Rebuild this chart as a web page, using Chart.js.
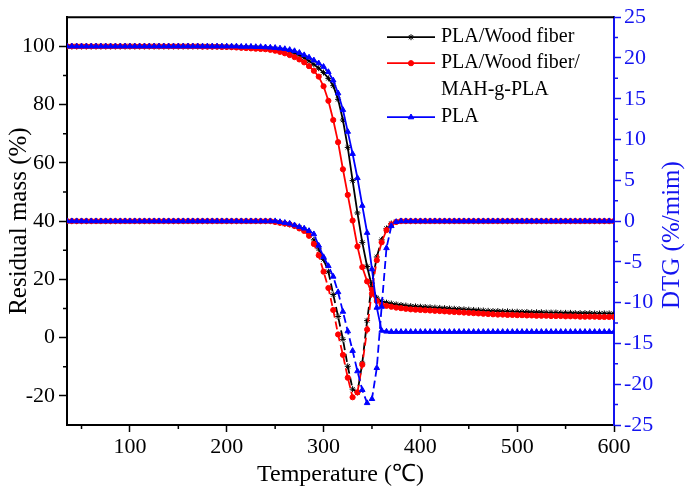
<!DOCTYPE html>
<html>
<head>
<meta charset="utf-8">
<script src="https://cdn.jsdelivr.net/npm/chart.js@4.4.0/dist/chart.umd.min.js"></script>
<style>
html, body { margin: 0; padding: 0; background: #fff; }
</style>
</head>
<body>
<canvas id="myChart" width="696" height="495"></canvas>
<script>
// temperature, 35..600 step 5
const temps = [
  35, 40, 45, 50, 55, 60, 65, 70, 75, 80,
  85, 90, 95, 100, 105, 110, 115, 120, 125, 130,
  135, 140, 145, 150, 155, 160, 165, 170, 175, 180,
  185, 190, 195, 200, 205, 210, 215, 220, 225, 230,
  235, 240, 245, 250, 255, 260, 265, 270, 275, 280,
  285, 290, 295, 300, 305, 310, 315, 320, 325, 330,
  335, 340, 345, 350, 355, 360, 365, 370, 375, 380,
  385, 390, 395, 400, 405, 410, 415, 420, 425, 430,
  435, 440, 445, 450, 455, 460, 465, 470, 475, 480,
  485, 490, 495, 500, 505, 510, 515, 520, 525, 530,
  535, 540, 545, 550, 555, 560, 565, 570, 575, 580,
  585, 590, 595, 600
];

// residual mass (%)
const tgWood = [
  100, 100, 100, 100, 100, 100, 100, 100, 100, 100,
  100, 100, 100, 100, 100, 100, 100, 100, 100, 100,
  100, 100, 100, 100, 100, 100, 100, 100, 100, 100,
  99.9, 99.9, 99.9, 99.8, 99.8, 99.8, 99.7, 99.7, 99.6, 99.6,
  99.5, 99.4, 99.3, 99.1, 98.9, 98.6, 98.2, 97.7, 97.0, 96.1,
  95.0, 93.8, 92.5, 91.0, 89.0, 86.5, 81.8, 74.7, 65.3, 53.9,
  42.8, 32.7, 24.4, 17.5, 13.6, 12.4, 12.0, 11.7, 11.4, 11.2,
  11.0, 10.8, 10.7, 10.6, 10.5, 10.4, 10.3, 10.2, 10.1, 10.0,
  9.9, 9.8, 9.7, 9.6, 9.5, 9.4, 9.3, 9.2, 9.1, 9.1,
  9.0, 9.0, 8.9, 8.9, 8.8, 8.8, 8.7, 8.7, 8.7, 8.6,
  8.6, 8.6, 8.5, 8.5, 8.5, 8.4, 8.4, 8.4, 8.4, 8.3,
  8.3, 8.3, 8.3, 8.2
];
const tgMah = [
  100, 100, 100, 100, 100, 100, 100, 100, 100, 100,
  100, 100, 100, 100, 100, 100, 100, 100, 100, 100,
  100, 100, 100, 100, 100, 100, 100, 100, 99.9, 99.9,
  99.9, 99.9, 99.8, 99.8, 99.7, 99.6, 99.5, 99.4, 99.3, 99.2,
  99.1, 99.0, 98.8, 98.5, 98.1, 97.6, 97.0, 96.3, 95.5, 94.5,
  93.2, 91.6, 89.6, 86.3, 81.3, 74.7, 67.1, 57.8, 49.0, 40.2,
  31.3, 24.2, 19.3, 15.1, 12.6, 11.3, 10.9, 10.6, 10.3, 10.1,
  9.9, 9.7, 9.6, 9.5, 9.4, 9.3, 9.2, 9.1, 9.0, 8.9,
  8.8, 8.7, 8.6, 8.5, 8.4, 8.3, 8.2, 8.1, 8.0, 7.9,
  7.9, 7.8, 7.8, 7.7, 7.7, 7.6, 7.6, 7.5, 7.5, 7.5,
  7.4, 7.4, 7.4, 7.3, 7.3, 7.3, 7.2, 7.2, 7.2, 7.2,
  7.1, 7.1, 7.1, 7.1
];
const tgPla = [
  100, 100, 100, 100, 100, 100, 100, 100, 100, 100,
  100, 100, 100, 100, 100, 100, 100, 100, 100, 100,
  100, 100, 100, 100, 100, 100, 100, 100, 100, 100,
  100, 100, 100, 100, 100, 100, 99.9, 99.9, 99.9, 99.8,
  99.8, 99.7, 99.6, 99.5, 99.3, 99.1, 98.8, 98.4, 97.8, 97.0,
  96.2, 95.2, 94.2, 93.0, 91.2, 88.3, 83.9, 78.2, 70.7, 63.1,
  54.8, 45.3, 36.0, 23.5, 10.3, 2.4, 2.1, 2.0, 2.0, 2.0,
  2.0, 2.0, 2.0, 2.0, 2.0, 2.0, 2.0, 2.0, 2.0, 2.0,
  2.0, 2.0, 2.0, 2.0, 2.0, 2.0, 2.0, 2.0, 2.0, 2.0,
  2.0, 2.0, 2.0, 2.0, 2.0, 2.0, 2.0, 2.0, 2.0, 2.0,
  2.0, 2.0, 2.0, 2.0, 2.0, 2.0, 2.0, 2.0, 2.0, 2.0,
  2.0, 2.0, 2.0, 2.0
];

// DTG (%/min)
const dtgWood = [
  0, 0, 0, 0, 0, 0, 0, 0, 0, 0,
  0, 0, 0, 0, 0, 0, 0, 0, 0, 0,
  0, 0, 0, 0, 0, 0, 0, 0, 0, 0,
  0, 0, 0, 0, 0, 0, 0, 0, 0, 0,
  0, 0, 0, -0.1, -0.2, -0.3, -0.4, -0.6, -0.8, -1.0,
  -1.4, -2.3, -3.4, -4.7, -6.2, -9.0, -11.7, -14.5, -17.8, -20.6,
  -21.0, -17.4, -12.2, -7.6, -4.4, -2.3, -0.9, -0.3, -0.1, 0,
  0, 0, 0, 0, 0, 0, 0, 0, 0, 0,
  0, 0, 0, 0, 0, 0, 0, 0, 0, 0,
  0, 0, 0, 0, 0, 0, 0, 0, 0, 0,
  0, 0, 0, 0, 0, 0, 0, 0, 0, 0,
  0, 0, 0, 0
];
const dtgMah = [
  0, 0, 0, 0, 0, 0, 0, 0, 0, 0,
  0, 0, 0, 0, 0, 0, 0, 0, 0, 0,
  0, 0, 0, 0, 0, 0, 0, 0, 0, 0,
  0, 0, 0, 0, 0, 0, 0, 0, 0, 0,
  0, 0, 0, -0.1, -0.2, -0.3, -0.4, -0.6, -0.9, -1.2,
  -1.8, -2.8, -4.2, -6.2, -8.2, -10.9, -13.9, -16.4, -19.2, -21.6,
  -21.0, -17.6, -13.3, -8.4, -4.8, -2.6, -1.1, -0.4, -0.1, 0,
  0, 0, 0, 0, 0, 0, 0, 0, 0, 0,
  0, 0, 0, 0, 0, 0, 0, 0, 0, 0,
  0, 0, 0, 0, 0, 0, 0, 0, 0, 0,
  0, 0, 0, 0, 0, 0, 0, 0, 0, 0,
  0, 0, 0, 0
];
const dtgPla = [
  0, 0, 0, 0, 0, 0, 0, 0, 0, 0,
  0, 0, 0, 0, 0, 0, 0, 0, 0, 0,
  0, 0, 0, 0, 0, 0, 0, 0, 0, 0,
  0, 0, 0, 0, 0, 0, 0, 0, 0, 0,
  0, 0, 0, 0, -0.1, -0.2, -0.3, -0.5, -0.7, -0.9,
  -1.2, -1.6, -3.0, -4.4, -5.5, -6.8, -8.7, -11.1, -13.5, -15.9,
  -18.4, -20.7, -22.3, -21.8, -18.0, -10.5, -3.3, -0.6, -0.1, 0,
  0, 0, 0, 0, 0, 0, 0, 0, 0, 0,
  0, 0, 0, 0, 0, 0, 0, 0, 0, 0,
  0, 0, 0, 0, 0, 0, 0, 0, 0, 0,
  0, 0, 0, 0, 0, 0, 0, 0, 0, 0,
  0, 0, 0, 0
];

const seriesNames = ["PLA/Wood fiber", "PLA/Wood fiber/", "PLA"];
const nameSecondLine = ["", "MAH-g-PLA", ""];

const xTicks = [100, 200, 300, 400, 500, 600];
const xMinor = [50, 150, 250, 350, 450, 550];
const massTicks = [-20, 0, 20, 40, 60, 80, 100];
const massMinor = [-10, 10, 30, 50, 70, 90];
const dtgTicks = [-25, -20, -15, -10, -5, 0, 5, 10, 15, 20, 25];
const dtgMinor = [-22.5, -17.5, -12.5, -7.5, -2.5, 2.5, 7.5, 12.5, 17.5, 22.5];

const BLUE = "#1414f0";
const FONT = "'Liberation Serif', 'Times New Roman', serif";

function pts(arr) {
  return temps.map((t, i) => ({ x: t, y: arr[i] }));
}

const looks = [
  { color: "#000000", style: "star", r: 3 },
  { color: "#ff0000", style: "circle", r: 2.6 },
  { color: "#0000ff", style: "triangle", r: 3.2 }
];

function tgSet(i, arr) {
  return {
    label: seriesNames[i], data: pts(arr), yAxisID: "y",
    borderColor: looks[i].color, backgroundColor: looks[i].color,
    pointStyle: looks[i].style, pointRadius: looks[i].r, pointBorderWidth: 1,
    borderWidth: 1.8, order: 3 - i
  };
}
function dtgSet(i, arr) {
  return {
    label: seriesNames[i] + " DTG", data: pts(arr), yAxisID: "y2",
    borderColor: looks[i].color, backgroundColor: looks[i].color,
    pointStyle: looks[i].style, pointRadius: looks[i].r, pointBorderWidth: 1,
    borderWidth: 1.8, borderDash: [8, 4], order: 3 - i
  };
}

// minor ticks, top frame line, right-hand title and the in-plot legend
const extras = {
  id: "extras",
  afterDraw(chart) {
    const ctx = chart.ctx;
    const a = chart.chartArea;
    const sx = chart.scales.x, sy = chart.scales.y, sy2 = chart.scales.y2;
    ctx.save();
    ctx.lineWidth = 1.5;
    ctx.strokeStyle = "#000";
    ctx.beginPath();
    xMinor.forEach(v => { const p = sx.getPixelForValue(v); ctx.moveTo(p, a.bottom); ctx.lineTo(p, a.bottom + 4); });
    massMinor.forEach(v => { const p = sy.getPixelForValue(v); ctx.moveTo(a.left, p); ctx.lineTo(a.left - 4, p); });
    ctx.stroke();
    ctx.strokeStyle = BLUE;
    ctx.beginPath();
    dtgMinor.forEach(v => { const p = sy2.getPixelForValue(v); ctx.moveTo(a.right, p); ctx.lineTo(a.right + 4, p); });
    ctx.stroke();
    // top frame
    ctx.strokeStyle = "#000";
    ctx.lineWidth = 2;
    ctx.beginPath();
    ctx.moveTo(a.left - 1, a.top);
    ctx.lineTo(a.right, a.top);
    ctx.stroke();

    // right axis title, reading bottom to top
    ctx.save();
    ctx.translate(a.right + 58, (a.top + a.bottom) / 2 + 14);
    ctx.rotate(-Math.PI / 2);
    ctx.font = "25px " + FONT;
    ctx.fillStyle = BLUE;
    ctx.textAlign = "center";
    ctx.textBaseline = "middle";
    ctx.fillText("DTG (%/mim)", 0, 0);
    ctx.restore();

    // legend
    const x0 = a.left + 320, x1 = a.left + 368, tx = a.left + 374;
    const rows = [a.top + 20, a.top + 46, a.top + 100];
    ctx.font = "20px " + FONT;
    ctx.textBaseline = "middle";
    ctx.textAlign = "left";
    for (let i = 0; i < 3; i++) {
      const y = rows[i];
      ctx.strokeStyle = looks[i].color;
      ctx.fillStyle = looks[i].color;
      ctx.lineWidth = 1.8;
      ctx.setLineDash([]);
      ctx.beginPath();
      ctx.moveTo(x0, y); ctx.lineTo(x1, y);
      ctx.stroke();
      ctx.lineWidth = 1;
      Chart.helpers.drawPoint(ctx, { pointStyle: looks[i].style, radius: looks[i].r, borderWidth: 1, rotation: 0 }, (x0 + x1) / 2, y);
      ctx.fillStyle = "#000";
      ctx.fillText(seriesNames[i], tx, y);
      if (nameSecondLine[i]) ctx.fillText(nameSecondLine[i], tx, y + 27);
    }
    ctx.restore();
  }
};

const tickFont = { family: FONT, size: 22 };

const CHART = document.getElementById("myChart");
var myChart = new Chart(CHART, {
  type: "line",
  data: {
    datasets: [
      tgSet(0, tgWood), tgSet(1, tgMah), tgSet(2, tgPla),
      dtgSet(0, dtgWood), dtgSet(1, dtgMah), dtgSet(2, dtgPla)
    ]
  },
  options: {
    responsive: false,
    animation: false,
    layout: { padding: { top: 17, left: 0, right: 0, bottom: 0 } },
    plugins: { legend: { display: false }, tooltip: { enabled: false } },
    elements: { line: { tension: 0 } },
    scales: {
      x: {
        type: "linear", position: "bottom", min: 35, max: 600,
        afterBuildTicks: s => { s.ticks = xTicks.map(v => ({ value: v })); },
        afterFit: s => { s.height = 70; },
        border: { color: "#000", width: 2 },
        grid: { drawOnChartArea: false, tickLength: 7, tickColor: "#000", tickWidth: 1.5 },
        ticks: { color: "#000", font: tickFont, padding: 2, maxRotation: 0 },
        title: { display: true, text: "Temperature (℃)", color: "#000", font: { family: FONT, size: 24 }, padding: { top: 0, bottom: 6 } }
      },
      y: {
        type: "linear", position: "left", min: -30, max: 110,
        afterBuildTicks: s => { s.ticks = massTicks.map(v => ({ value: v })); },
        afterFit: s => { s.width = 67; },
        border: { color: "#000", width: 2 },
        grid: { drawOnChartArea: false, tickLength: 8, tickColor: "#000", tickWidth: 1.5 },
        ticks: { color: "#000", font: tickFont, padding: 4 },
        title: { display: true, text: "Residual mass (%)", color: "#000", font: { family: FONT, size: 25 }, padding: { top: 4, bottom: 0 } }
      },
      y2: {
        type: "linear", position: "right", min: -25, max: 25,
        afterBuildTicks: s => { s.ticks = dtgTicks.map(v => ({ value: v })); },
        afterFit: s => { s.width = 82; },
        border: { color: BLUE, width: 2 },
        grid: { drawOnChartArea: false, tickLength: 7, tickColor: BLUE, tickWidth: 1.5 },
        ticks: { color: BLUE, font: tickFont, padding: 3 },
        title: { display: false }
      }
    }
  },
  plugins: [extras]
});
</script>
</body>
</html>
